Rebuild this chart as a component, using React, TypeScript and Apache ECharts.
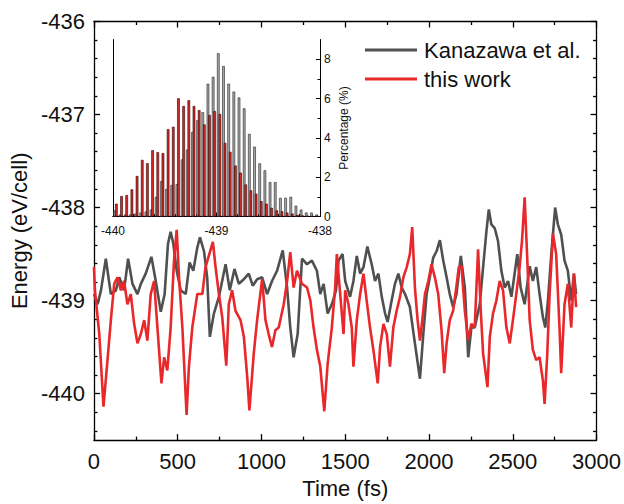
import React, { useEffect, useRef } from "react";
import * as echarts from "echarts";

// ---- Main panel: energy vs time ----
const kanazawaTime = [0, 22, 42, 71, 101, 131, 151, 180, 204, 230, 260, 280, 309, 343, 369, 399, 422, 442, 458, 474, 494, 518, 548, 571, 593, 617, 633, 657, 676, 692, 716, 746, 786, 811, 839, 865, 895, 924, 948, 974, 1004, 1034, 1063, 1093, 1127, 1153, 1172, 1192, 1216, 1242, 1272, 1301, 1331, 1351, 1371, 1395, 1420, 1445, 1460, 1484, 1500, 1529, 1549, 1569, 1589, 1609, 1632, 1658, 1678, 1698, 1718, 1738, 1753, 1777, 1797, 1817, 1837, 1857, 1886, 1916, 1946, 1966, 1986, 2005, 2025, 2045, 2065, 2085, 2105, 2124, 2144, 2164, 2190, 2214, 2234, 2253, 2273, 2303, 2323, 2343, 2357, 2372, 2392, 2412, 2432, 2452, 2472, 2492, 2527, 2547, 2571, 2601, 2620, 2640, 2660, 2680, 2694, 2710, 2730, 2753, 2769, 2789, 2809, 2829, 2849, 2865, 2878];
const kanazawaEnergy = [-438.93, -439.04, -438.89, -438.55, -438.93, -438.89, -438.75, -438.89, -438.55, -438.82, -438.93, -438.82, -438.71, -438.53, -438.79, -439.12, -438.93, -438.39, -438.26, -438.39, -438.68, -438.89, -438.93, -438.59, -438.68, -438.43, -438.32, -438.47, -438.75, -439.39, -439.14, -438.96, -438.61, -438.89, -438.66, -438.82, -438.77, -438.71, -438.84, -438.77, -438.75, -438.93, -438.79, -438.68, -438.46, -438.86, -439.29, -439.61, -439.36, -438.55, -438.61, -438.57, -438.68, -438.93, -438.82, -439.14, -439.04, -438.89, -438.57, -438.5, -438.79, -438.96, -438.79, -438.52, -438.71, -438.64, -438.42, -438.61, -438.79, -438.71, -438.96, -439.14, -439.23, -439.0, -438.82, -438.71, -438.86, -438.93, -439.07, -439.46, -439.84, -439.36, -438.93, -438.75, -438.54, -438.47, -438.35, -438.57, -438.75, -438.93, -439.07, -438.93, -438.52, -438.86, -439.61, -439.29, -439.29, -439.04, -438.64, -438.25, -438.02, -438.18, -438.22, -438.36, -438.68, -438.86, -438.79, -438.96, -438.5, -438.86, -439.04, -438.63, -438.79, -438.64, -438.93, -439.18, -439.29, -439.0, -438.5, -438.0, -438.18, -438.29, -438.57, -438.68, -439.0, -438.71, -438.93];

const thisWorkTime = [0, 6, 32, 57, 81, 101, 121, 141, 161, 180, 200, 220, 240, 260, 280, 300, 319, 339, 359, 379, 403, 419, 438, 458, 478, 494, 508, 528, 553, 567, 587, 617, 647, 666, 710, 726, 746, 766, 790, 805, 825, 845, 875, 895, 915, 928, 954, 974, 1004, 1024, 1043, 1063, 1083, 1103, 1133, 1153, 1172, 1192, 1212, 1242, 1272, 1292, 1311, 1331, 1351, 1375, 1395, 1420, 1440, 1450, 1470, 1490, 1500, 1519, 1539, 1549, 1569, 1589, 1609, 1628, 1648, 1668, 1694, 1708, 1728, 1748, 1767, 1787, 1807, 1827, 1847, 1867, 1886, 1900, 1916, 1932, 1946, 1960, 1976, 1996, 2015, 2035, 2055, 2075, 2091, 2105, 2124, 2144, 2158, 2178, 2194, 2214, 2234, 2253, 2273, 2293, 2309, 2323, 2349, 2363, 2382, 2402, 2422, 2442, 2462, 2482, 2501, 2521, 2541, 2555, 2571, 2587, 2601, 2620, 2640, 2660, 2680, 2690, 2706, 2720, 2740, 2759, 2779, 2789, 2809, 2829, 2849, 2865, 2878];
const thisWorkEnergy = [-438.64, -438.89, -439.36, -440.14, -439.64, -439.21, -438.82, -438.75, -438.89, -438.79, -439.04, -438.93, -439.25, -439.46, -439.36, -439.21, -439.43, -438.93, -438.79, -439.29, -439.89, -439.61, -439.75, -439.29, -438.57, -438.24, -438.75, -439.29, -440.23, -439.71, -439.29, -438.93, -438.93, -438.64, -438.37, -438.64, -438.93, -439.18, -439.7, -439.04, -438.89, -439.11, -439.21, -439.39, -439.82, -440.18, -439.57, -439.21, -438.77, -439.21, -439.36, -439.5, -439.32, -439.29, -439.04, -438.79, -438.48, -438.86, -438.68, -438.82, -438.86, -439.0, -439.29, -439.53, -439.71, -440.19, -439.68, -439.29, -438.86, -438.5, -438.93, -439.36, -438.89, -439.04, -439.29, -439.71, -439.21, -438.93, -438.71, -439.0, -439.29, -439.53, -439.89, -439.5, -439.25, -439.36, -439.71, -439.29, -439.11, -438.96, -438.75, -438.64, -438.5, -438.21, -438.86, -439.21, -439.43, -439.21, -438.93, -438.79, -438.61, -438.75, -438.93, -439.32, -439.78, -439.46, -439.21, -439.11, -438.93, -438.64, -438.63, -439.11, -439.43, -439.25, -439.29, -438.45, -439.11, -439.57, -439.93, -439.39, -439.14, -439.0, -438.79, -438.89, -439.29, -439.46, -439.21, -438.93, -438.64, -438.36, -437.89, -438.57, -439.21, -439.53, -439.64, -439.61, -439.86, -440.11, -439.57, -438.93, -438.28, -438.5, -439.29, -439.78, -439.04, -438.82, -439.29, -438.71, -439.07];

const timeTicks = [0, 500, 1000, 1500, 2000, 2500, 3000];
const energyTicks = [-440, -439, -438, -437, -436];
const energyMinorTicks = [-440.4, -440.2, -439.8, -439.6, -439.4, -439.2, -438.8, -438.6, -438.4, -438.2, -437.8, -437.6, -437.4, -437.2, -436.8, -436.6, -436.4, -436.2];

// ---- Inset: energy distribution ----
const binCenters = [-439.975, -439.925, -439.875, -439.825, -439.775, -439.725, -439.675, -439.625, -439.575, -439.525, -439.475, -439.425, -439.375, -439.325, -439.275, -439.225, -439.175, -439.125, -439.075, -439.025, -438.975, -438.925, -438.875, -438.825, -438.775, -438.725, -438.675, -438.625, -438.575, -438.525, -438.475, -438.425, -438.375, -438.325, -438.275, -438.225, -438.175, -438.125, -438.075, -438.025];
const kanazawaPct = [0.3, 0.1, 0.1, 0.1, 0.15, 0.2, 0.25, 0.35, 1.0, 1.8, 1.4, 1.6, 1.65, 2.9, 3.4, 4.3, 4.9, 5.3, 6.75, 7.1, 8.3, 7.65, 6.75, 6.35, 6.05, 5.5, 4.2, 3.55, 2.7, 2.35, 1.75, 1.75, 0.95, 0.95, 1.0, 0.55, 0.35, 0.2, 0.2, 0.1];
const thisWorkPct = [0.65, 1.04, 1.09, 1.38, 2.06, 2.88, 2.71, 3.37, 3.27, 3.22, 4.44, 4.56, 6.01, 5.62, 5.91, 5.62, 5.41, 4.68, 5.16, 5.36, 5.21, 3.74, 3.29, 2.59, 2.23, 1.63, 1.33, 1.16, 0.78, 0.65, 0.44, 0.31, 0.27, 0.2, 0.15, 0.08, 0.05, 0.03, 0.02, 0.01];
const insetXTicks = [-440, -439, -438];
const insetYTicks = [0, 2, 4, 6, 8];
const insetYMinorTicks = [1, 3, 5, 7];

const FONT = "'Liberation Sans', Arial, Helvetica, sans-serif";
const AX = { color: "#000", width: 1.3 };
const plain = (v: number) => String(v);
const LINE_ICON = "path://M0,0H52V3H0Z";

export default function App() {
  const ref = useRef<HTMLDivElement>(null);
  useEffect(() => {
    if (!ref.current) return;
    const chart = echarts.init(ref.current, undefined, { renderer: "svg" });
    const noLabel = { show: false };
    const option: any = {
      animation: false,
      backgroundColor: "#fff",
      textStyle: { fontFamily: FONT },
      grid: [
        { left: 93, right: 27, top: 21.5, bottom: 62 },
        { left: 113, top: 39.5, width: 207, height: 177 },
      ],
      legend: {
        data: [
          { name: "Kanazawa et al.", icon: LINE_ICON },
          { name: "this work", icon: LINE_ICON },
        ],
        orient: "vertical",
        left: 365,
        top: 39,
        padding: 0,
        itemWidth: 52,
        itemHeight: 3,
        itemGap: 7,
        textStyle: { fontSize: 22, color: "#111", fontFamily: FONT, padding: [0, 0, 0, 2] },
      },
      xAxis: [
        {
          gridIndex: 0, type: "value", min: 0, max: 3000, interval: 500, position: "bottom",
          name: "Time (fs)", nameLocation: "middle", nameGap: 36,
          nameTextStyle: { fontSize: 22, color: "#111", fontFamily: FONT },
          axisLine: { lineStyle: AX },
          axisTick: { inside: true, length: 6, lineStyle: AX, customValues: timeTicks },
          minorTick: { show: true, splitNumber: 2, length: 3.5, lineStyle: AX },
          axisLabel: { fontSize: 22, color: "#111", margin: 10, customValues: timeTicks, fontFamily: FONT, formatter: plain },
          splitLine: { show: false },
        },
        {
          gridIndex: 0, type: "value", min: 0, max: 3000, interval: 500, position: "top",
          axisLine: { lineStyle: AX },
          axisTick: { inside: true, length: 6, lineStyle: AX },
          minorTick: { show: true, splitNumber: 2, length: 3.5, lineStyle: AX },
          axisLabel: noLabel,
          splitLine: { show: false },
        },
        {
          gridIndex: 1, type: "value", min: -440, max: -438, interval: 1, position: "bottom",
          axisLine: { lineStyle: { color: "#000", width: 1 } },
          axisTick: { inside: true, length: 4, lineStyle: { color: "#000", width: 1 } },
          minorTick: { show: true, splitNumber: 5, length: 2.5, lineStyle: { color: "#000", width: 1 } },
          axisLabel: { fontSize: 12, color: "#111", margin: 8, customValues: insetXTicks, fontFamily: FONT, formatter: plain },
          splitLine: { show: false },
        },
        {
          gridIndex: 1, type: "value", min: -440, max: -438, position: "top",
          axisLine: { lineStyle: { color: "#000", width: 1 } },
          axisTick: { show: false }, axisLabel: noLabel, splitLine: { show: false },
        },
      ],
      yAxis: [
        {
          gridIndex: 0, type: "value", min: -440.5, max: -436, position: "left",
          name: "Energy (eV/cell)", nameLocation: "middle", nameGap: 55, nameRotate: 90,
          nameTextStyle: { fontSize: 22, color: "#111", fontFamily: FONT },
          axisLine: { lineStyle: AX },
          axisTick: { inside: true, length: 6, lineStyle: AX, customValues: energyTicks },
          axisLabel: { fontSize: 22, color: "#111", margin: 9, customValues: energyTicks, fontFamily: FONT, formatter: plain },
          splitLine: { show: false },
        },
        {
          gridIndex: 0, type: "value", min: -440.5, max: -436, position: "left",
          axisLine: { show: false },
          axisTick: { inside: true, length: 3.5, lineStyle: AX, customValues: energyMinorTicks },
          axisLabel: noLabel, splitLine: { show: false },
        },
        {
          gridIndex: 0, type: "value", min: -440.5, max: -436, position: "right",
          axisLine: { lineStyle: AX },
          axisTick: { inside: true, length: 6, lineStyle: AX, customValues: energyTicks },
          axisLabel: noLabel, splitLine: { show: false },
        },
        {
          gridIndex: 0, type: "value", min: -440.5, max: -436, position: "right",
          axisLine: { show: false },
          axisTick: { inside: true, length: 3.5, lineStyle: AX, customValues: energyMinorTicks },
          axisLabel: noLabel, splitLine: { show: false },
        },
        {
          gridIndex: 1, type: "value", min: 0, max: 9, position: "right",
          name: "Percentage (%)", nameLocation: "middle", nameGap: 18, nameRotate: 90,
          nameTextStyle: { fontSize: 12, color: "#111", fontFamily: FONT },
          axisLine: { lineStyle: { color: "#000", width: 1 } },
          axisTick: { inside: true, length: 4, lineStyle: { color: "#000", width: 1 }, customValues: insetYTicks },
          axisLabel: { fontSize: 12, color: "#111", margin: 4, customValues: insetYTicks, fontFamily: FONT, formatter: plain },
          splitLine: { show: false },
        },
        {
          gridIndex: 1, type: "value", min: 0, max: 9, position: "right",
          axisLine: { show: false },
          axisTick: { inside: true, length: 2.5, lineStyle: { color: "#000", width: 1 }, customValues: insetYMinorTicks },
          axisLabel: noLabel, splitLine: { show: false },
        },
        {
          gridIndex: 1, type: "value", min: 0, max: 9, position: "left",
          axisLine: { lineStyle: { color: "#000", width: 1 } },
          axisTick: { show: false }, axisLabel: noLabel, splitLine: { show: false },
        },
      ],
      series: [
        {
          name: "Kanazawa et al.", type: "line", xAxisIndex: 0, yAxisIndex: 0,
          data: kanazawaTime.map((t, i) => [t, kanazawaEnergy[i]]),
          symbol: "none", lineStyle: { color: "#505050", width: 2.6 }, itemStyle: { color: "#505050" },
        },
        {
          name: "this work", type: "line", xAxisIndex: 0, yAxisIndex: 0,
          data: thisWorkTime.map((t, i) => [t, thisWorkEnergy[i]]),
          symbol: "none", lineStyle: { color: "#e8282a", width: 2.6 }, itemStyle: { color: "#e8282a" },
        },
        {
          name: "Kanazawa dist", type: "bar", xAxisIndex: 2, yAxisIndex: 4,
          data: binCenters.map((c, i) => [c, kanazawaPct[i]]),
          barWidth: 2.6, barGap: "-40%",
          itemStyle: { color: "#a8a8a8", borderColor: "#222", borderWidth: 0.6 },
        },
        {
          name: "this work dist", type: "bar", xAxisIndex: 2, yAxisIndex: 4,
          data: binCenters.map((c, i) => [c, thisWorkPct[i]]),
          barWidth: 2.6, barGap: "-40%",
          itemStyle: { color: "#d42a2a", borderColor: "#300", borderWidth: 0.6 },
        },
      ],
    };
    chart.setOption(option);
    return () => chart.dispose();
  }, []);
  return (
    <div
      ref={ref}
      style={{ position: "fixed", left: 0, top: 0, width: 624, height: 504, background: "#fff" }}
    />
  );
}
